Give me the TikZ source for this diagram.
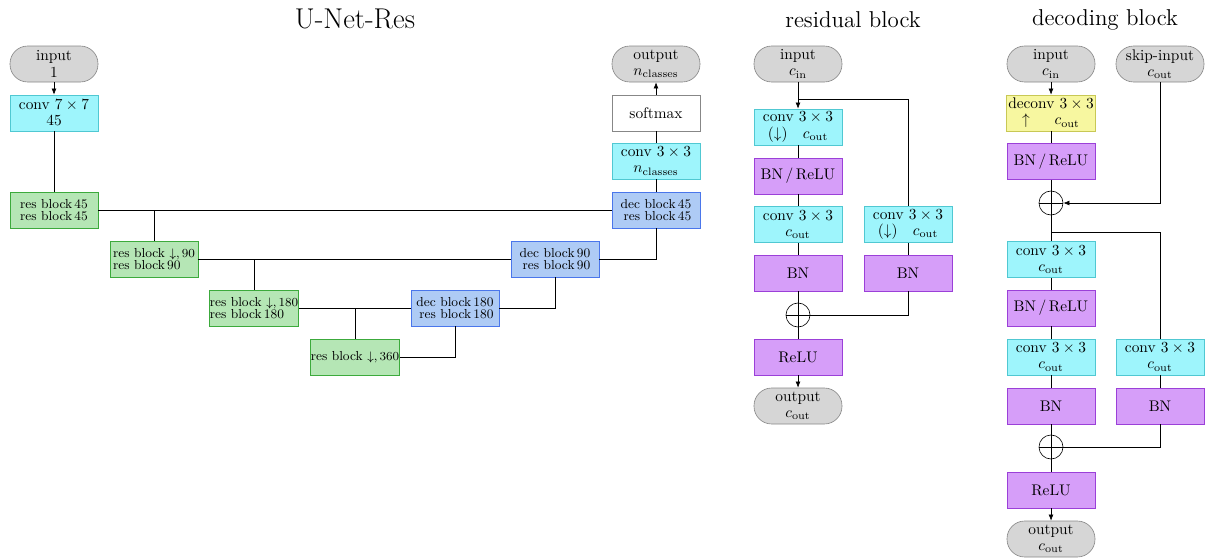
\documentclass[tikz,border=0pt]{standalone}
\usepackage{amsmath}
\usetikzlibrary{arrows.meta}

\definecolor{termfill}{RGB}{214,214,214}
\definecolor{termdraw}{RGB}{135,135,135}
\definecolor{convfill}{RGB}{158,245,252}
\definecolor{convdraw}{RGB}{80,200,210}
\definecolor{resfill}{RGB}{181,230,181}
\definecolor{resdraw}{RGB}{60,170,60}
\definecolor{decfill}{RGB}{174,203,245}
\definecolor{decdraw}{RGB}{74,118,235}
\definecolor{normfill}{RGB}{214,158,249}
\definecolor{normdraw}{RGB}{155,64,216}
\definecolor{upfill}{RGB}{247,247,160}
\definecolor{updraw}{RGB}{200,200,85}

\tikzset{
  box/.style={draw, minimum width=57.2pt, minimum height=23.4pt, inner sep=1pt,
    align=center, font=\fontsize{10}{10.5}\selectfont},
  term/.style={box, rounded corners=11.5pt, fill=termfill, draw=termdraw},
  convbox/.style={box, fill=convfill, draw=convdraw},
  resbox/.style={box, fill=resfill, draw=resdraw, align=left, inner xsep=0.3pt,
    font=\fontsize{8.5}{8}\selectfont},
  decbox/.style={box, fill=decfill, draw=decdraw, align=right,
    font=\fontsize{8.5}{8}\selectfont},
  normbox/.style={box, fill=normfill, draw=normdraw},
  upbox/.style={box, fill=upfill, draw=updraw},
  plainbox/.style={box, fill=white, draw=termdraw},
  sumnode/.style={draw, circle, minimum size=15.6pt, inner sep=0pt},
  arr/.style={-{Latex[length=4pt,width=3.2pt]}},
  title/.style={font=\fontsize{14.9}{18}\selectfont}
}

\newcommand{\cout}{$c_{\mathrm{out}}$}
\newcommand{\oplusmark}[1]{\draw (#1.north) -- (#1.south) (#1.west) -- (#1.east);}

\begin{document}
\begin{tikzpicture}[x=0.65pt, y=-0.65pt]
\useasboundingbox (0,0) rectangle (1208,559);

% ---------------- U-Net-Res ----------------
\node[font=\fontsize{18.6}{22}\selectfont] (t1) at (355,19) {U-Net-Res};
\node[term] (in1) at (54,64) {input\\1};
\node[convbox] (c7) at (54,113) {conv $7\times7$\\45};
\node[resbox] (r45) at (54,210) {res block\,45\\res block\,45};
\node[resbox] (r90) at (154,259) {res block $\downarrow,90$\\res block\,90};
\node[resbox] (r180) at (254,308) {res block $\downarrow,180$\\res block\,180};
\node[resbox] (r360) at (355,357) {res block $\downarrow,360$};
\node[decbox] (d180) at (455,308) {dec block\,180\\res block\,180};
\node[decbox] (d90) at (555,259) {dec block\,90\\res block\,90};
\node[decbox] (d45) at (656,210) {dec block\,45\\res block\,45};
\node[convbox] (c3n) at (656,161) {conv $3\times3$\\$n_{\mathrm{classes}}$};
\node[plainbox] (sm) at (656,113) {softmax};
\node[term] (out1) at (656,64) {output\\$n_{\mathrm{classes}}$};

\draw[arr] (in1) -- (c7);
\draw (c7) -- (r45);
\draw (r45.east) -- (d45.west);
\draw (r90.north) -- (r90.north |- r45.east);
\draw (r90.east) -- (d90.west);
\draw (r180.north) -- (r180.north |- r90.east);
\draw (r180.east) -- (d180.west);
\draw (r360.north) -- (r360.north |- r180.east);
\draw (r360.east) -| (d180.south);
\draw (d180.east) -| (d90.south);
\draw (d90.east) -| (d45.south);
\draw (d45) -- (c3n);
\draw (c3n) -- (sm);
\draw[arr] (sm) -- (out1);

% ---------------- residual block ----------------
\node[title] (t2) at (853,20) {residual block};
\node[term] (rin) at (798,64) {input\\$c_{\mathrm{in}}$};
\node[convbox] (rc1) at (798,127) {conv $3\times3$\\$(\downarrow)\quad c_{\mathrm{out}}$};
\node[normbox] (rbr) at (798,176) {BN\,/\,ReLU};
\node[convbox] (rc2) at (798,224.5) {conv $3\times3$\\\cout};
\node[normbox] (rbn) at (798,273) {BN};
\node[sumnode] (rsum) at (798,315) {};
\node[normbox] (rrelu) at (798,357) {ReLU};
\node[term] (rout) at (798,406) {output\\\cout};
\node[convbox] (rc3) at (908,224.5) {conv $3\times3$\\$(\downarrow)\quad c_{\mathrm{out}}$};
\node[normbox] (rbn2) at (908,273) {BN};
\coordinate (rsplit) at (798,99);

\oplusmark{rsum}
\draw[arr] (rin) -- (rc1);
\draw (rsplit) -| (rc3.north);
\draw (rc1) -- (rbr);
\draw (rbr) -- (rc2);
\draw (rc2) -- (rbn);
\draw (rbn) -- (rsum);
\draw (rsum) -- (rrelu);
\draw[arr] (rrelu) -- (rout);
\draw (rc3) -- (rbn2);
\draw (rbn2.south) |- (rsum.east);

% ---------------- decoding block ----------------
\node[title] (t3) at (1105,20) {decoding block};
\node[term] (din) at (1051,64) {input\\$c_{\mathrm{in}}$};
\node[term] (dskip) at (1160,64) {skip-input\\\cout};
\node[upbox] (ddc) at (1051,113) {deconv $3\times3$\\$\uparrow\quad\ c_{\mathrm{out}}$};
\node[normbox] (dbr1) at (1051,161.5) {BN\,/\,ReLU};
\node[sumnode] (dsum1) at (1051,203) {};
\node[convbox] (dc1) at (1051,259.5) {conv $3\times3$\\\cout};
\node[normbox] (dbr2) at (1051,308) {BN\,/\,ReLU};
\node[convbox] (dc2) at (1051,357) {conv $3\times3$\\\cout};
\node[normbox] (dbn) at (1051,406) {BN};
\node[sumnode] (dsum2) at (1051,447) {};
\node[normbox] (drelu) at (1051,490) {ReLU};
\node[term] (dout) at (1051,539) {output\\\cout};
\node[convbox] (dc3) at (1160,357) {conv $3\times3$\\\cout};
\node[normbox] (dbn3) at (1160,406) {BN};
\coordinate (dsplit) at (1051,232);

\oplusmark{dsum1}
\oplusmark{dsum2}
\draw[arr] (din) -- (ddc);
\draw (ddc) -- (dbr1);
\draw (dbr1) -- (dsum1);
\draw[arr] (dskip.south) |- (dsum1.east);
\draw (dsum1) -- (dc1);
\draw (dsplit) -| (dc3.north);
\draw (dc1) -- (dbr2);
\draw (dbr2) -- (dc2);
\draw (dc2) -- (dbn);
\draw (dbn) -- (dsum2);
\draw (dsum2) -- (drelu);
\draw[arr] (drelu) -- (dout);
\draw (dc3) -- (dbn3);
\draw (dbn3.south) |- (dsum2.east);
\end{tikzpicture}
\end{document}
